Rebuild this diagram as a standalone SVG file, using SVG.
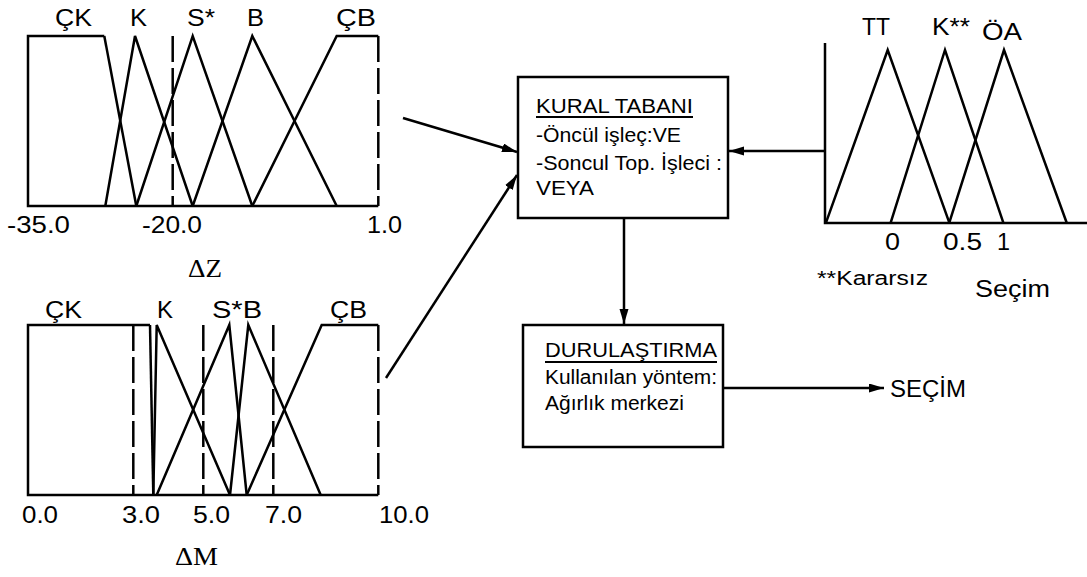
<svg xmlns="http://www.w3.org/2000/svg" width="1087" height="577" viewBox="0 0 1087 577">
<style>
.ln{fill:none;stroke:#000;stroke-width:2.5;stroke-linejoin:miter}
.ds{fill:none;stroke:#000;stroke-width:2.5;stroke-dasharray:26 6}
.t{font-family:"Liberation Sans",Arial,sans-serif;font-size:23px;fill:#000}
.s{font-family:"Liberation Sans",Arial,sans-serif;font-size:20px;fill:#000}
.g{font-family:"Liberation Serif","Times New Roman",serif;font-size:26px;fill:#000}
.ar{fill:none;stroke:#000;stroke-width:2.5;marker-end:url(#ah)}
</style>
<defs>
<marker id="ah" markerUnits="userSpaceOnUse" markerWidth="16" markerHeight="10" refX="15" refY="4.5" orient="auto">
<path d="M0,0 L15,4.5 L0,9 Z" fill="#000"/>
</marker>
</defs>
<rect width="1087" height="577" fill="#fff"/>

<g id="chart-dz">
<path class="ln" d="M104.3,36 H28 V206 H378.3"/>
<path class="ln" d="M104.3,36 L136.3,206"/>
<path class="ln" d="M105.3,206 L135,36 L192.7,206"/>
<path class="ln" d="M136.3,206 L192.7,36 L252.3,206"/>
<path class="ln" d="M192.7,206 L252.3,36 L336.7,206"/>
<path class="ln" d="M252.3,206 L336.7,36 H378.3"/>
<path class="ds" d="M172.7,36 V206 M378.3,36 V206"/>
<text class="t" x="55" y="26" textLength="37" lengthAdjust="spacingAndGlyphs">ÇK</text>
<text class="t" x="130" y="26" textLength="17" lengthAdjust="spacingAndGlyphs">K</text>
<text class="t" x="187" y="26" textLength="28" lengthAdjust="spacingAndGlyphs">S*</text>
<text class="t" x="247" y="26" textLength="17" lengthAdjust="spacingAndGlyphs">B</text>
<text class="t" x="336" y="26" textLength="40" lengthAdjust="spacingAndGlyphs">ÇB</text>
<text class="t" x="7" y="233" textLength="63" lengthAdjust="spacingAndGlyphs">-35.0</text>
<text class="t" x="142" y="233" textLength="60" lengthAdjust="spacingAndGlyphs">-20.0</text>
<text class="t" x="367" y="233" textLength="35" lengthAdjust="spacingAndGlyphs">1.0</text>
<text class="g" x="188" y="277" textLength="34" lengthAdjust="spacingAndGlyphs">ΔZ</text>
</g>

<g id="chart-dm">
<path class="ln" d="M150,325 H28 V495 H378.3"/>
<path class="ln" d="M150,325 L153.3,495"/>
<path class="ln" d="M153.3,495 L156.7,325 L230,495"/>
<path class="ln" d="M156.7,495 L229.3,325 L246.7,495"/>
<path class="ln" d="M230,495 L248.3,325 L320.7,495"/>
<path class="ln" d="M246.7,495 L321.7,325 H378.3"/>
<path class="ds" d="M133.3,325 V495 M203.3,325 V495 M273.3,325 V495 M378.3,325 V495"/>
<text class="t" x="45" y="318" textLength="37" lengthAdjust="spacingAndGlyphs">ÇK</text>
<text class="t" x="157" y="318" textLength="16" lengthAdjust="spacingAndGlyphs">K</text>
<text class="t" x="212" y="318" textLength="50" lengthAdjust="spacingAndGlyphs">S*B</text>
<text class="t" x="330" y="318" textLength="37" lengthAdjust="spacingAndGlyphs">ÇB</text>
<text class="t" x="22" y="523" textLength="36" lengthAdjust="spacingAndGlyphs">0.0</text>
<text class="t" x="122" y="523" textLength="38" lengthAdjust="spacingAndGlyphs">3.0</text>
<text class="t" x="193" y="523" textLength="37" lengthAdjust="spacingAndGlyphs">5.0</text>
<text class="t" x="265" y="523" textLength="37" lengthAdjust="spacingAndGlyphs">7.0</text>
<text class="t" x="379" y="523" textLength="50" lengthAdjust="spacingAndGlyphs">10.0</text>
<text class="g" x="175" y="565" textLength="43" lengthAdjust="spacingAndGlyphs">ΔM</text>
</g>

<g id="chart-secim">
<path class="ln" d="M825,43 V223 H1087"/>
<path class="ln" d="M826,222.7 L887.7,50 L949.3,222.7"/>
<path class="ln" d="M890.7,222.7 L945,50 L1003.3,222.7"/>
<path class="ln" d="M949.3,222.7 L1004,50 L1066.7,222.7"/>
<text class="t" x="862" y="35" textLength="28" lengthAdjust="spacingAndGlyphs">TT</text>
<text class="t" x="932" y="35" textLength="38" lengthAdjust="spacingAndGlyphs">K**</text>
<text class="t" x="982" y="40" textLength="40" lengthAdjust="spacingAndGlyphs">ÖA</text>
<text class="t" x="885" y="250" textLength="15" lengthAdjust="spacingAndGlyphs">0</text>
<text class="t" x="943" y="250" textLength="39" lengthAdjust="spacingAndGlyphs">0.5</text>
<text class="t" x="997" y="250" textLength="13" lengthAdjust="spacingAndGlyphs">1</text>
<text class="s" x="817" y="285" textLength="111" lengthAdjust="spacingAndGlyphs">**Kararsız</text>
<text class="t" x="975" y="297" textLength="75" lengthAdjust="spacingAndGlyphs">Seçim</text>
</g>

<g id="kural-tabani">
<rect class="ln" x="518" y="77" width="210" height="141"/>
<text class="s" x="536" y="113" textLength="157" lengthAdjust="spacingAndGlyphs">KURAL TABANI</text>
<line x1="536" y1="117" x2="693" y2="117" stroke="#000" stroke-width="2"/>
<text class="s" x="536" y="142" textLength="145" lengthAdjust="spacingAndGlyphs">-Öncül işleç:VE</text>
<text class="s" x="536" y="170" textLength="186" lengthAdjust="spacingAndGlyphs">-Soncul Top. İşleci :</text>
<text class="s" x="536" y="195" textLength="58" lengthAdjust="spacingAndGlyphs">VEYA</text>
</g>

<g id="durulastirma">
<rect class="ln" x="523" y="325" width="200" height="122"/>
<text class="s" x="545" y="357" textLength="172" lengthAdjust="spacingAndGlyphs">DURULAŞTIRMA</text>
<line x1="545" y1="362" x2="717" y2="362" stroke="#000" stroke-width="2"/>
<text class="s" x="545" y="384" textLength="172" lengthAdjust="spacingAndGlyphs">Kullanılan yöntem:</text>
<text class="s" x="545" y="410" textLength="139" lengthAdjust="spacingAndGlyphs">Ağırlık merkezi</text>
</g>

<g id="secim-out">
<text class="t" x="890" y="397" textLength="76" lengthAdjust="spacingAndGlyphs">SEÇİM</text>
</g>

<g id="connectors">
<path class="ar" d="M403,118 L517,152"/>
<path class="ar" d="M386,378 L517,175"/>
<path class="ar" d="M825,151 L729,151"/>
<path class="ar" d="M624,218 L624,324"/>
<path class="ar" d="M724,388 L884,388"/>
</g>
</svg>
